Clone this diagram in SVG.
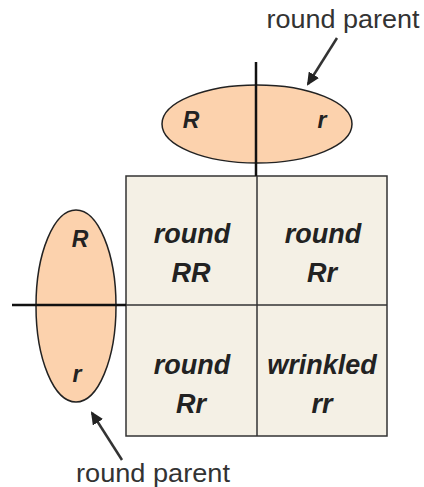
<svg xmlns="http://www.w3.org/2000/svg" width="424" height="487" viewBox="0 0 424 487">
<defs>
<style>
.cell{fill:#f4f0e5;stroke:#333;stroke-width:1.5}
.gam{fill:#fcd2ad;stroke:#222;stroke-width:1.5}
.bar{stroke:#111;stroke-width:2.5}
.t{font-family:"Liberation Sans",Arial,sans-serif;font-weight:bold;font-style:italic;fill:#222;text-anchor:middle}
.lbl{font-family:"Liberation Sans",Arial,sans-serif;font-size:25px;fill:#333;text-anchor:middle}
.arr{stroke:#333;stroke-width:2.5;fill:none}
</style>
<marker id="ah" markerWidth="13" markerHeight="12" refX="11" refY="6" orient="auto" markerUnits="userSpaceOnUse" viewBox="0 0 13 12">
<path d="M0,0 L13,6 L0,12 z" fill="#222"/>
</marker>
</defs>
<g id="grid">
<rect class="cell" x="126" y="176" width="261" height="260"/>
<line x1="257" y1="176" x2="257" y2="436" stroke="#333" stroke-width="1.5"/>
<line x1="126" y1="305" x2="387" y2="305" stroke="#333" stroke-width="1.5"/>
</g>
<g id="cell-RR"><text class="t" font-size="27" x="192" y="243">round</text><text class="t" font-size="27" x="191" y="282">RR</text></g>
<g id="cell-Rr1"><text class="t" font-size="27" x="323" y="243">round</text><text class="t" font-size="27" x="322" y="282">Rr</text></g>
<g id="cell-Rr2"><text class="t" font-size="27" x="192" y="374">round</text><text class="t" font-size="27" x="191" y="413">Rr</text></g>
<g id="cell-rr"><text class="t" font-size="27" x="322" y="374">wrinkled</text><text class="t" font-size="27" x="322" y="413">rr</text></g>
<g id="parent-top">
<ellipse class="gam" cx="257" cy="124" rx="95" ry="39"/>
<line class="bar" x1="256" y1="62" x2="256" y2="176"/>
<text class="t" font-size="23" x="191" y="128">R</text>
<text class="t" font-size="23" x="322" y="128">r</text>
</g>
<g id="parent-left">
<ellipse class="gam" cx="76" cy="306" rx="40" ry="96"/>
<line class="bar" x1="12" y1="305" x2="126" y2="305"/>
<text class="t" font-size="23" x="80" y="247">R</text>
<text class="t" font-size="23" x="77" y="382">r</text>
</g>
<g id="label-top"><text class="lbl" x="343" y="28" textLength="153" lengthAdjust="spacingAndGlyphs">round parent</text></g>
<g id="label-bottom"><text class="lbl" x="153" y="482" textLength="154" lengthAdjust="spacingAndGlyphs">round parent</text></g>
<g id="connectors">
<line class="arr" x1="337" y1="38" x2="308" y2="84" marker-end="url(#ah)"/>
<line class="arr" x1="122" y1="460" x2="92" y2="413" marker-end="url(#ah)"/>
</g>
</svg>
